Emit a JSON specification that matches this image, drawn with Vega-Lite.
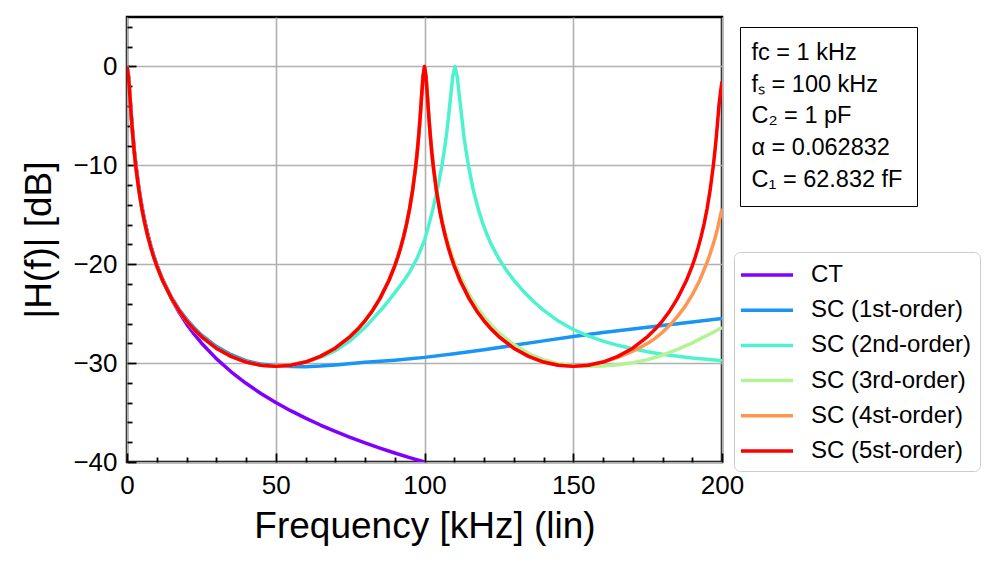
{
  "$schema": "https://vega.github.io/schema/vega-lite/v6.json",
  "width": 595,
  "height": 445,
  "autosize": {"type": "none"},
  "padding": {"left": 127, "top": 17, "right": 278, "bottom": 101},
  "background": "white",
  "config": {
    "font": "Liberation Sans",
    "view": {"stroke": "black", "strokeWidth": 2.5}
  },
  "datasets": {
    "notes": [
      {"note": "fc = 1 kHz"},
      {"note": "fₛ = 100 kHz"},
      {"note": "C₂ = 1 pF"},
      {"note": "α = 0.062832"},
      {"note": "C₁ = 62.832 fF"}
    ],
    "curves": [
      {"s":"CT","f":0,"db":0},{"s":"CT","f":0.5,"db":-0.97},{"s":"CT","f":1,"db":-3.01},{"s":"CT","f":1.5,"db":-5.12},{"s":"CT","f":2,"db":-6.99},{"s":"CT","f":2.5,"db":-8.6},{"s":"CT","f":3,"db":-10.0},{"s":"CT","f":4,"db":-12.3},{"s":"CT","f":5,"db":-14.15},{"s":"CT","f":6,"db":-15.68},{"s":"CT","f":7,"db":-16.99},{"s":"CT","f":8,"db":-18.13},{"s":"CT","f":9,"db":-19.14},{"s":"CT","f":10,"db":-20.04},{"s":"CT","f":12,"db":-21.6},{"s":"CT","f":15,"db":-23.53},{"s":"CT","f":17.5,"db":-24.87},{"s":"CT","f":20,"db":-26.03},{"s":"CT","f":22.5,"db":-27.05},{"s":"CT","f":25,"db":-27.96},{"s":"CT","f":30,"db":-29.55},{"s":"CT","f":35,"db":-30.88},{"s":"CT","f":40,"db":-32.04},{"s":"CT","f":45,"db":-33.07},{"s":"CT","f":50,"db":-33.98},{"s":"CT","f":55,"db":-34.81},{"s":"CT","f":60,"db":-35.56},{"s":"CT","f":65,"db":-36.26},{"s":"CT","f":70,"db":-36.9},{"s":"CT","f":75,"db":-37.5},{"s":"CT","f":80,"db":-38.06},{"s":"CT","f":85,"db":-38.59},{"s":"CT","f":90,"db":-39.09},{"s":"CT","f":95,"db":-39.56},{"s":"CT","f":100,"db":-40.0},

      {"s":"SC (1st-order)","f":0,"db":0},{"s":"SC (1st-order)","f":0.5,"db":-1.0},{"s":"SC (1st-order)","f":1,"db":-3.1},{"s":"SC (1st-order)","f":1.5,"db":-5.2},{"s":"SC (1st-order)","f":2,"db":-7.1},{"s":"SC (1st-order)","f":2.5,"db":-8.7},{"s":"SC (1st-order)","f":3,"db":-10.1},{"s":"SC (1st-order)","f":4,"db":-12.4},{"s":"SC (1st-order)","f":5,"db":-14.25},{"s":"SC (1st-order)","f":6,"db":-15.78},{"s":"SC (1st-order)","f":7,"db":-17.07},{"s":"SC (1st-order)","f":8,"db":-18.2},{"s":"SC (1st-order)","f":9,"db":-19.2},{"s":"SC (1st-order)","f":10,"db":-20.07},{"s":"SC (1st-order)","f":12,"db":-21.56},{"s":"SC (1st-order)","f":15,"db":-23.36},{"s":"SC (1st-order)","f":17.5,"db":-24.55},{"s":"SC (1st-order)","f":20,"db":-25.55},{"s":"SC (1st-order)","f":22.5,"db":-26.4},{"s":"SC (1st-order)","f":25,"db":-27.15},{"s":"SC (1st-order)","f":30,"db":-28.3},{"s":"SC (1st-order)","f":35,"db":-29.15},{"s":"SC (1st-order)","f":40,"db":-29.75},{"s":"SC (1st-order)","f":45,"db":-30.1},{"s":"SC (1st-order)","f":50,"db":-30.27},{"s":"SC (1st-order)","f":55,"db":-30.34},{"s":"SC (1st-order)","f":60,"db":-30.36},{"s":"SC (1st-order)","f":65,"db":-30.3},{"s":"SC (1st-order)","f":70,"db":-30.18},{"s":"SC (1st-order)","f":80,"db":-29.92},{"s":"SC (1st-order)","f":90,"db":-29.7},{"s":"SC (1st-order)","f":100,"db":-29.42},{"s":"SC (1st-order)","f":110,"db":-29.05},{"s":"SC (1st-order)","f":120,"db":-28.65},{"s":"SC (1st-order)","f":130,"db":-28.2},{"s":"SC (1st-order)","f":140,"db":-27.75},{"s":"SC (1st-order)","f":150,"db":-27.3},{"s":"SC (1st-order)","f":160,"db":-26.9},{"s":"SC (1st-order)","f":170,"db":-26.55},{"s":"SC (1st-order)","f":180,"db":-26.2},{"s":"SC (1st-order)","f":190,"db":-25.85},{"s":"SC (1st-order)","f":200,"db":-25.5},

      {"s":"SC (2nd-order)","f":0,"db":0},{"s":"SC (2nd-order)","f":0.5,"db":-1.02},{"s":"SC (2nd-order)","f":1,"db":-3.14},{"s":"SC (2nd-order)","f":1.5,"db":-5.3},{"s":"SC (2nd-order)","f":2,"db":-7.2},{"s":"SC (2nd-order)","f":2.5,"db":-8.83},{"s":"SC (2nd-order)","f":3,"db":-10.23},{"s":"SC (2nd-order)","f":4,"db":-12.53},{"s":"SC (2nd-order)","f":5,"db":-14.37},{"s":"SC (2nd-order)","f":6,"db":-15.89},{"s":"SC (2nd-order)","f":7,"db":-17.18},{"s":"SC (2nd-order)","f":8,"db":-18.3},{"s":"SC (2nd-order)","f":9,"db":-19.29},{"s":"SC (2nd-order)","f":10,"db":-20.16},{"s":"SC (2nd-order)","f":12,"db":-21.67},{"s":"SC (2nd-order)","f":15,"db":-23.48},{"s":"SC (2nd-order)","f":17.5,"db":-24.7},{"s":"SC (2nd-order)","f":20,"db":-25.72},{"s":"SC (2nd-order)","f":22.5,"db":-26.58},{"s":"SC (2nd-order)","f":25,"db":-27.32},{"s":"SC (2nd-order)","f":30,"db":-28.49},{"s":"SC (2nd-order)","f":35,"db":-29.32},{"s":"SC (2nd-order)","f":40,"db":-29.89},{"s":"SC (2nd-order)","f":45,"db":-30.22},{"s":"SC (2nd-order)","f":50,"db":-30.33},{"s":"SC (2nd-order)","f":55,"db":-30.22},{"s":"SC (2nd-order)","f":58,"db":-30.02},{"s":"SC (2nd-order)","f":60,"db":-29.88},{"s":"SC (2nd-order)","f":63,"db":-29.62},{"s":"SC (2nd-order)","f":66,"db":-29.3},{"s":"SC (2nd-order)","f":70,"db":-28.75},{"s":"SC (2nd-order)","f":75,"db":-27.75},{"s":"SC (2nd-order)","f":80,"db":-26.4},{"s":"SC (2nd-order)","f":83,"db":-25.4},{"s":"SC (2nd-order)","f":86.6,"db":-24.2},{"s":"SC (2nd-order)","f":90,"db":-22.9},{"s":"SC (2nd-order)","f":93,"db":-21.7},{"s":"SC (2nd-order)","f":95,"db":-20.8},{"s":"SC (2nd-order)","f":97.5,"db":-19.4},{"s":"SC (2nd-order)","f":100,"db":-17.6},{"s":"SC (2nd-order)","f":101.25,"db":-16.25},{"s":"SC (2nd-order)","f":102.75,"db":-14.5},{"s":"SC (2nd-order)","f":104.25,"db":-12.55},{"s":"SC (2nd-order)","f":105.75,"db":-10.2},{"s":"SC (2nd-order)","f":106.5,"db":-8.8},{"s":"SC (2nd-order)","f":107.25,"db":-7.2},{"s":"SC (2nd-order)","f":108,"db":-5.3},{"s":"SC (2nd-order)","f":108.75,"db":-3.14},{"s":"SC (2nd-order)","f":109.5,"db":-1.02},{"s":"SC (2nd-order)","f":110.25,"db":0},{"s":"SC (2nd-order)","f":111,"db":-1.02},{"s":"SC (2nd-order)","f":111.8,"db":-3.2},{"s":"SC (2nd-order)","f":112.6,"db":-5.35},{"s":"SC (2nd-order)","f":113.3,"db":-7.2},{"s":"SC (2nd-order)","f":114.1,"db":-8.8},{"s":"SC (2nd-order)","f":114.9,"db":-10.2},{"s":"SC (2nd-order)","f":116.4,"db":-12.5},{"s":"SC (2nd-order)","f":118,"db":-14.35},{"s":"SC (2nd-order)","f":119.5,"db":-15.8},{"s":"SC (2nd-order)","f":121,"db":-17.0},{"s":"SC (2nd-order)","f":122.6,"db":-18.1},{"s":"SC (2nd-order)","f":125,"db":-19.45},{"s":"SC (2nd-order)","f":127.5,"db":-20.6},{"s":"SC (2nd-order)","f":130,"db":-21.6},{"s":"SC (2nd-order)","f":133,"db":-22.65},{"s":"SC (2nd-order)","f":136.6,"db":-23.75},{"s":"SC (2nd-order)","f":140,"db":-24.65},{"s":"SC (2nd-order)","f":145,"db":-25.75},{"s":"SC (2nd-order)","f":150,"db":-26.6},{"s":"SC (2nd-order)","f":155,"db":-27.25},{"s":"SC (2nd-order)","f":160,"db":-27.78},{"s":"SC (2nd-order)","f":165,"db":-28.2},{"s":"SC (2nd-order)","f":170,"db":-28.55},{"s":"SC (2nd-order)","f":175,"db":-28.85},{"s":"SC (2nd-order)","f":180,"db":-29.1},{"s":"SC (2nd-order)","f":185,"db":-29.3},{"s":"SC (2nd-order)","f":190,"db":-29.48},{"s":"SC (2nd-order)","f":195,"db":-29.62},{"s":"SC (2nd-order)","f":200,"db":-29.75},

      {"s":"SC (3rd-order)","f":0,"db":0},{"s":"SC (3rd-order)","f":0.5,"db":-1.02},{"s":"SC (3rd-order)","f":1,"db":-3.14},{"s":"SC (3rd-order)","f":1.5,"db":-5.3},{"s":"SC (3rd-order)","f":2,"db":-7.2},{"s":"SC (3rd-order)","f":2.5,"db":-8.83},{"s":"SC (3rd-order)","f":3,"db":-10.23},{"s":"SC (3rd-order)","f":4,"db":-12.53},{"s":"SC (3rd-order)","f":5,"db":-14.37},{"s":"SC (3rd-order)","f":6,"db":-15.89},{"s":"SC (3rd-order)","f":7,"db":-17.18},{"s":"SC (3rd-order)","f":8,"db":-18.3},{"s":"SC (3rd-order)","f":9,"db":-19.29},{"s":"SC (3rd-order)","f":10,"db":-20.16},{"s":"SC (3rd-order)","f":12,"db":-21.67},{"s":"SC (3rd-order)","f":15,"db":-23.48},{"s":"SC (3rd-order)","f":17.5,"db":-24.7},{"s":"SC (3rd-order)","f":20,"db":-25.72},{"s":"SC (3rd-order)","f":22.5,"db":-26.58},{"s":"SC (3rd-order)","f":25,"db":-27.32},{"s":"SC (3rd-order)","f":30,"db":-28.49},{"s":"SC (3rd-order)","f":35,"db":-29.32},{"s":"SC (3rd-order)","f":40,"db":-29.89},{"s":"SC (3rd-order)","f":45,"db":-30.22},{"s":"SC (3rd-order)","f":50,"db":-30.33},{"s":"SC (3rd-order)","f":55,"db":-30.22},{"s":"SC (3rd-order)","f":60,"db":-29.89},{"s":"SC (3rd-order)","f":65,"db":-29.32},{"s":"SC (3rd-order)","f":70,"db":-28.49},{"s":"SC (3rd-order)","f":75,"db":-27.32},{"s":"SC (3rd-order)","f":77.5,"db":-26.58},{"s":"SC (3rd-order)","f":80,"db":-25.72},{"s":"SC (3rd-order)","f":82.5,"db":-24.7},{"s":"SC (3rd-order)","f":85,"db":-23.48},{"s":"SC (3rd-order)","f":88,"db":-21.67},{"s":"SC (3rd-order)","f":90,"db":-20.16},{"s":"SC (3rd-order)","f":91,"db":-19.29},{"s":"SC (3rd-order)","f":92,"db":-18.3},{"s":"SC (3rd-order)","f":93,"db":-17.18},{"s":"SC (3rd-order)","f":94,"db":-15.89},{"s":"SC (3rd-order)","f":95,"db":-14.37},{"s":"SC (3rd-order)","f":96,"db":-12.53},{"s":"SC (3rd-order)","f":97,"db":-10.23},{"s":"SC (3rd-order)","f":97.5,"db":-8.83},{"s":"SC (3rd-order)","f":98,"db":-7.2},{"s":"SC (3rd-order)","f":98.5,"db":-5.3},{"s":"SC (3rd-order)","f":99,"db":-3.14},{"s":"SC (3rd-order)","f":99.5,"db":-1.02},{"s":"SC (3rd-order)","f":100,"db":0},{"s":"SC (3rd-order)","f":100.5,"db":-0.98},{"s":"SC (3rd-order)","f":101,"db":-3.05},{"s":"SC (3rd-order)","f":101.5,"db":-5.15},{"s":"SC (3rd-order)","f":102,"db":-7.02},{"s":"SC (3rd-order)","f":102.5,"db":-8.62},{"s":"SC (3rd-order)","f":103,"db":-10.0},{"s":"SC (3rd-order)","f":104,"db":-12.27},{"s":"SC (3rd-order)","f":105,"db":-14.08},{"s":"SC (3rd-order)","f":106,"db":-15.57},{"s":"SC (3rd-order)","f":107,"db":-16.84},{"s":"SC (3rd-order)","f":108,"db":-17.93},{"s":"SC (3rd-order)","f":109,"db":-18.9},{"s":"SC (3rd-order)","f":110,"db":-19.75},{"s":"SC (3rd-order)","f":112,"db":-21.24},{"s":"SC (3rd-order)","f":115,"db":-23.04},{"s":"SC (3rd-order)","f":117.5,"db":-24.27},{"s":"SC (3rd-order)","f":120,"db":-25.3},{"s":"SC (3rd-order)","f":122.5,"db":-26.17},{"s":"SC (3rd-order)","f":125,"db":-26.92},{"s":"SC (3rd-order)","f":130,"db":-28.12},{"s":"SC (3rd-order)","f":135,"db":-29.02},{"s":"SC (3rd-order)","f":140,"db":-29.65},{"s":"SC (3rd-order)","f":145,"db":-30.05},{"s":"SC (3rd-order)","f":150,"db":-30.27},{"s":"SC (3rd-order)","f":155,"db":-30.33},{"s":"SC (3rd-order)","f":160,"db":-30.28},{"s":"SC (3rd-order)","f":165,"db":-30.17},{"s":"SC (3rd-order)","f":170,"db":-29.97},{"s":"SC (3rd-order)","f":175,"db":-29.65},{"s":"SC (3rd-order)","f":180,"db":-29.2},{"s":"SC (3rd-order)","f":185,"db":-28.62},{"s":"SC (3rd-order)","f":190,"db":-27.95},{"s":"SC (3rd-order)","f":195,"db":-27.2},{"s":"SC (3rd-order)","f":200,"db":-26.4},

      {"s":"SC (4st-order)","f":0,"db":0},{"s":"SC (4st-order)","f":0.5,"db":-1.02},{"s":"SC (4st-order)","f":1,"db":-3.14},{"s":"SC (4st-order)","f":1.5,"db":-5.3},{"s":"SC (4st-order)","f":2,"db":-7.2},{"s":"SC (4st-order)","f":2.5,"db":-8.83},{"s":"SC (4st-order)","f":3,"db":-10.23},{"s":"SC (4st-order)","f":4,"db":-12.53},{"s":"SC (4st-order)","f":5,"db":-14.37},{"s":"SC (4st-order)","f":6,"db":-15.89},{"s":"SC (4st-order)","f":7,"db":-17.18},{"s":"SC (4st-order)","f":8,"db":-18.3},{"s":"SC (4st-order)","f":9,"db":-19.29},{"s":"SC (4st-order)","f":10,"db":-20.16},{"s":"SC (4st-order)","f":12,"db":-21.67},{"s":"SC (4st-order)","f":15,"db":-23.48},{"s":"SC (4st-order)","f":17.5,"db":-24.7},{"s":"SC (4st-order)","f":20,"db":-25.72},{"s":"SC (4st-order)","f":22.5,"db":-26.58},{"s":"SC (4st-order)","f":25,"db":-27.32},{"s":"SC (4st-order)","f":30,"db":-28.49},{"s":"SC (4st-order)","f":35,"db":-29.32},{"s":"SC (4st-order)","f":40,"db":-29.89},{"s":"SC (4st-order)","f":45,"db":-30.22},{"s":"SC (4st-order)","f":50,"db":-30.33},{"s":"SC (4st-order)","f":55,"db":-30.22},{"s":"SC (4st-order)","f":60,"db":-29.89},{"s":"SC (4st-order)","f":65,"db":-29.32},{"s":"SC (4st-order)","f":70,"db":-28.49},{"s":"SC (4st-order)","f":75,"db":-27.32},{"s":"SC (4st-order)","f":77.5,"db":-26.58},{"s":"SC (4st-order)","f":80,"db":-25.72},{"s":"SC (4st-order)","f":82.5,"db":-24.7},{"s":"SC (4st-order)","f":85,"db":-23.48},{"s":"SC (4st-order)","f":88,"db":-21.67},{"s":"SC (4st-order)","f":90,"db":-20.16},{"s":"SC (4st-order)","f":91,"db":-19.29},{"s":"SC (4st-order)","f":92,"db":-18.3},{"s":"SC (4st-order)","f":93,"db":-17.18},{"s":"SC (4st-order)","f":94,"db":-15.89},{"s":"SC (4st-order)","f":95,"db":-14.37},{"s":"SC (4st-order)","f":96,"db":-12.53},{"s":"SC (4st-order)","f":97,"db":-10.23},{"s":"SC (4st-order)","f":97.5,"db":-8.83},{"s":"SC (4st-order)","f":98,"db":-7.2},{"s":"SC (4st-order)","f":98.5,"db":-5.3},{"s":"SC (4st-order)","f":99,"db":-3.14},{"s":"SC (4st-order)","f":99.5,"db":-1.02},{"s":"SC (4st-order)","f":100,"db":0},{"s":"SC (4st-order)","f":100.5,"db":-1.02},{"s":"SC (4st-order)","f":101,"db":-3.14},{"s":"SC (4st-order)","f":101.5,"db":-5.3},{"s":"SC (4st-order)","f":102,"db":-7.2},{"s":"SC (4st-order)","f":102.5,"db":-8.83},{"s":"SC (4st-order)","f":103,"db":-10.23},{"s":"SC (4st-order)","f":104,"db":-12.53},{"s":"SC (4st-order)","f":105,"db":-14.37},{"s":"SC (4st-order)","f":106,"db":-15.89},{"s":"SC (4st-order)","f":107,"db":-17.18},{"s":"SC (4st-order)","f":108,"db":-18.3},{"s":"SC (4st-order)","f":109,"db":-19.29},{"s":"SC (4st-order)","f":110,"db":-20.16},{"s":"SC (4st-order)","f":112,"db":-21.67},{"s":"SC (4st-order)","f":115,"db":-23.48},{"s":"SC (4st-order)","f":117.5,"db":-24.7},{"s":"SC (4st-order)","f":120,"db":-25.72},{"s":"SC (4st-order)","f":122.5,"db":-26.58},{"s":"SC (4st-order)","f":125,"db":-27.32},{"s":"SC (4st-order)","f":130,"db":-28.49},{"s":"SC (4st-order)","f":135,"db":-29.32},{"s":"SC (4st-order)","f":140,"db":-29.89},{"s":"SC (4st-order)","f":145,"db":-30.22},{"s":"SC (4st-order)","f":150,"db":-30.33},{"s":"SC (4st-order)","f":155,"db":-30.22},{"s":"SC (4st-order)","f":160,"db":-29.9},{"s":"SC (4st-order)","f":165,"db":-29.41},{"s":"SC (4st-order)","f":170,"db":-28.79},{"s":"SC (4st-order)","f":172.5,"db":-28.42},{"s":"SC (4st-order)","f":175,"db":-28.0},{"s":"SC (4st-order)","f":177.5,"db":-27.5},{"s":"SC (4st-order)","f":180,"db":-26.88},{"s":"SC (4st-order)","f":182.5,"db":-26.15},{"s":"SC (4st-order)","f":185,"db":-25.3},{"s":"SC (4st-order)","f":187.5,"db":-24.3},{"s":"SC (4st-order)","f":190,"db":-23.1},{"s":"SC (4st-order)","f":192.5,"db":-21.64},{"s":"SC (4st-order)","f":195,"db":-19.8},{"s":"SC (4st-order)","f":196,"db":-18.95},{"s":"SC (4st-order)","f":197.5,"db":-17.52},{"s":"SC (4st-order)","f":198.5,"db":-16.4},{"s":"SC (4st-order)","f":200,"db":-14.37},

      {"s":"SC (5st-order)","f":0,"db":0},{"s":"SC (5st-order)","f":0.5,"db":-1.02},{"s":"SC (5st-order)","f":1,"db":-3.14},{"s":"SC (5st-order)","f":1.5,"db":-5.3},{"s":"SC (5st-order)","f":2,"db":-7.2},{"s":"SC (5st-order)","f":2.5,"db":-8.83},{"s":"SC (5st-order)","f":3,"db":-10.23},{"s":"SC (5st-order)","f":4,"db":-12.53},{"s":"SC (5st-order)","f":5,"db":-14.37},{"s":"SC (5st-order)","f":6,"db":-15.89},{"s":"SC (5st-order)","f":7,"db":-17.18},{"s":"SC (5st-order)","f":8,"db":-18.3},{"s":"SC (5st-order)","f":9,"db":-19.29},{"s":"SC (5st-order)","f":10,"db":-20.16},{"s":"SC (5st-order)","f":12,"db":-21.67},{"s":"SC (5st-order)","f":15,"db":-23.48},{"s":"SC (5st-order)","f":17.5,"db":-24.7},{"s":"SC (5st-order)","f":20,"db":-25.72},{"s":"SC (5st-order)","f":22.5,"db":-26.58},{"s":"SC (5st-order)","f":25,"db":-27.32},{"s":"SC (5st-order)","f":30,"db":-28.49},{"s":"SC (5st-order)","f":35,"db":-29.32},{"s":"SC (5st-order)","f":40,"db":-29.89},{"s":"SC (5st-order)","f":45,"db":-30.22},{"s":"SC (5st-order)","f":50,"db":-30.33},{"s":"SC (5st-order)","f":55,"db":-30.22},{"s":"SC (5st-order)","f":60,"db":-29.89},{"s":"SC (5st-order)","f":65,"db":-29.32},{"s":"SC (5st-order)","f":70,"db":-28.49},{"s":"SC (5st-order)","f":75,"db":-27.32},{"s":"SC (5st-order)","f":77.5,"db":-26.58},{"s":"SC (5st-order)","f":80,"db":-25.72},{"s":"SC (5st-order)","f":82.5,"db":-24.7},{"s":"SC (5st-order)","f":85,"db":-23.48},{"s":"SC (5st-order)","f":88,"db":-21.67},{"s":"SC (5st-order)","f":90,"db":-20.16},{"s":"SC (5st-order)","f":91,"db":-19.29},{"s":"SC (5st-order)","f":92,"db":-18.3},{"s":"SC (5st-order)","f":93,"db":-17.18},{"s":"SC (5st-order)","f":94,"db":-15.89},{"s":"SC (5st-order)","f":95,"db":-14.37},{"s":"SC (5st-order)","f":96,"db":-12.53},{"s":"SC (5st-order)","f":97,"db":-10.23},{"s":"SC (5st-order)","f":97.5,"db":-8.83},{"s":"SC (5st-order)","f":98,"db":-7.2},{"s":"SC (5st-order)","f":98.5,"db":-5.3},{"s":"SC (5st-order)","f":99,"db":-3.14},{"s":"SC (5st-order)","f":99.5,"db":-1.02},{"s":"SC (5st-order)","f":100,"db":0},{"s":"SC (5st-order)","f":100.5,"db":-1.02},{"s":"SC (5st-order)","f":101,"db":-3.14},{"s":"SC (5st-order)","f":101.5,"db":-5.3},{"s":"SC (5st-order)","f":102,"db":-7.2},{"s":"SC (5st-order)","f":102.5,"db":-8.83},{"s":"SC (5st-order)","f":103,"db":-10.23},{"s":"SC (5st-order)","f":104,"db":-12.53},{"s":"SC (5st-order)","f":105,"db":-14.37},{"s":"SC (5st-order)","f":106,"db":-15.89},{"s":"SC (5st-order)","f":107,"db":-17.18},{"s":"SC (5st-order)","f":108,"db":-18.3},{"s":"SC (5st-order)","f":109,"db":-19.29},{"s":"SC (5st-order)","f":110,"db":-20.16},{"s":"SC (5st-order)","f":112,"db":-21.67},{"s":"SC (5st-order)","f":115,"db":-23.48},{"s":"SC (5st-order)","f":117.5,"db":-24.7},{"s":"SC (5st-order)","f":120,"db":-25.72},{"s":"SC (5st-order)","f":122.5,"db":-26.58},{"s":"SC (5st-order)","f":125,"db":-27.32},{"s":"SC (5st-order)","f":130,"db":-28.49},{"s":"SC (5st-order)","f":135,"db":-29.32},{"s":"SC (5st-order)","f":140,"db":-29.89},{"s":"SC (5st-order)","f":145,"db":-30.22},{"s":"SC (5st-order)","f":150,"db":-30.33},{"s":"SC (5st-order)","f":155,"db":-30.22},{"s":"SC (5st-order)","f":160,"db":-29.89},{"s":"SC (5st-order)","f":165,"db":-29.32},{"s":"SC (5st-order)","f":170,"db":-28.49},{"s":"SC (5st-order)","f":175,"db":-27.32},{"s":"SC (5st-order)","f":177.5,"db":-26.58},{"s":"SC (5st-order)","f":180,"db":-25.72},{"s":"SC (5st-order)","f":182.5,"db":-24.7},{"s":"SC (5st-order)","f":185,"db":-23.48},{"s":"SC (5st-order)","f":188,"db":-21.67},{"s":"SC (5st-order)","f":190,"db":-20.16},{"s":"SC (5st-order)","f":191,"db":-19.29},{"s":"SC (5st-order)","f":192,"db":-18.3},{"s":"SC (5st-order)","f":193,"db":-17.18},{"s":"SC (5st-order)","f":194,"db":-15.89},{"s":"SC (5st-order)","f":195,"db":-14.37},{"s":"SC (5st-order)","f":196,"db":-12.53},{"s":"SC (5st-order)","f":197,"db":-10.23},{"s":"SC (5st-order)","f":197.5,"db":-8.9},{"s":"SC (5st-order)","f":198,"db":-7.4},{"s":"SC (5st-order)","f":198.5,"db":-5.7},{"s":"SC (5st-order)","f":199,"db":-3.9},{"s":"SC (5st-order)","f":199.5,"db":-2.6},{"s":"SC (5st-order)","f":200,"db":-1.52}
    ]
  },
  "layer": [
    {
      "data": {"name": "curves"},
      "mark": {"type": "line", "strokeWidth": 3.5, "clip": true, "strokeJoin": "round"},
      "encoding": {
        "x": {
          "field": "f", "type": "quantitative",
          "scale": {"domain": [0, 200], "nice": false, "zero": false},
          "axis": {
            "values": [0,10,20,30,40,50,60,70,80,90,100,110,120,130,140,150,160,170,180,190,200],
            "labelExpr": "datum.value % 50 === 0 ? datum.label : ''",
            "grid": true,
            "gridColor": "#b0b0b0",
            "gridWidth": 1.6,
            "gridOpacity": {"condition": {"test": "datum.value % 50 === 0", "value": 1}, "value": 0},
            "tickSize": {"condition": {"test": "datum.value % 50 === 0", "value": -9}, "value": -5},
            "tickColor": "black",
            "tickWidth": 1.8,
            "domain": false,
            "labelFontSize": 26,
            "labelColor": "black",
            "labelPadding": 19,
            "labelFlush": false,
            "title": "Frequency [kHz] (lin)",
            "titleFontSize": 37,
            "titleFontWeight": "normal",
            "titleColor": "black",
            "titlePadding": 10
          }
        },
        "y": {
          "field": "db", "type": "quantitative",
          "scale": {"domain": [-40, 5], "nice": false, "zero": false},
          "axis": {
            "values": [-40,-38,-36,-34,-32,-30,-28,-26,-24,-22,-20,-18,-16,-14,-12,-10,-8,-6,-4,-2,0,2,4],
            "labelExpr": "datum.value % 10 === 0 ? datum.label : ''",
            "grid": true,
            "gridColor": "#b0b0b0",
            "gridWidth": 1.6,
            "gridOpacity": {"condition": {"test": "datum.value % 10 === 0", "value": 1}, "value": 0},
            "tickSize": {"condition": {"test": "datum.value % 10 === 0", "value": -9}, "value": -5},
            "tickColor": "black",
            "tickWidth": 1.8,
            "domain": false,
            "labelFontSize": 26,
            "labelColor": "black",
            "labelPadding": 19,
            "labelFlush": false,
            "title": "|H(f)| [dB]",
            "titleFontSize": 37,
            "titleFontWeight": "normal",
            "titleColor": "black",
            "titlePadding": 14
          }
        },
        "color": {
          "field": "s", "type": "nominal",
          "scale": {
            "domain": ["CT","SC (1st-order)","SC (2nd-order)","SC (3rd-order)","SC (4st-order)","SC (5st-order)"],
            "range": ["#8000ff","#1996f3","#4df3ce","#b3f396","#ff964f","#ff0000"]
          },
          "legend": {
            "title": null,
            "orient": "none",
            "legendX": 607,
            "legendY": 235,
            "symbolType": "M-2,0H2",
            "symbolSize": 676,
            "symbolOffset": 10,
            "symbolStrokeWidth": 3.5,
            "labelFontSize": 24,
            "labelColor": "black",
            "labelLimit": 400,
            "labelOffset": 29,
            "rowPadding": 8.2,
            "padding": 8,
            "strokeColor": "#cccccc",
            "fillColor": "white",
            "cornerRadius": 6
          }
        }
      }
    },
    {
      "data": {"name": "notes"},
      "mark": {"type": "point", "opacity": 0},
      "encoding": {
        "shape": {
          "field": "note", "type": "nominal",
          "scale": {"domain": ["fc = 1 kHz","fₛ = 100 kHz","C₂ = 1 pF","α = 0.062832","C₁ = 62.832 fF"]},
          "legend": {
            "title": null,
            "orient": "none",
            "legendX": 613,
            "legendY": 10,
            "symbolSize": 0,
            "symbolOpacity": 0,
            "symbolStrokeWidth": 0,
            "labelFontSize": 23.5,
            "labelColor": "black",
            "labelLimit": 400,
            "labelOffset": -26,
            "rowPadding": 6.8,
            "padding": 14,
            "strokeColor": "black",
            "fillColor": "white",
            "cornerRadius": 0
          }
        }
      }
    }
  ]
}
